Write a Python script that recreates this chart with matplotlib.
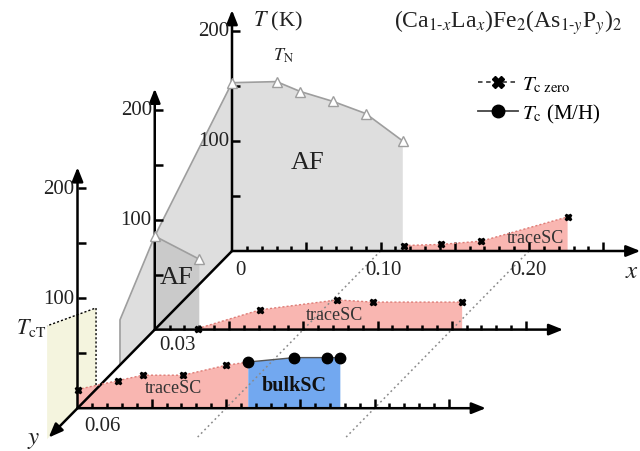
import numpy as np
import matplotlib.pyplot as plt
from matplotlib.transforms import Affine2D
from matplotlib.lines import Line2D
from matplotlib.collections import LineCollection

plt.rcParams['font.family'] = ['Liberation Serif', 'DejaVu Serif']
plt.rcParams['mathtext.fontset'] = 'stix'

# back plane, y = 0
tn_x0 = [0.0, 0.030, 0.046, 0.068, 0.090, 0.115]
tn_T0 = [153, 154, 145, 136, 125, 100]
tr_x0 = [0.116, 0.141, 0.168, 0.226]
tr_T0 = [5, 6, 9, 31]

# middle plane, y = 0.03
tn_x1 = [0.0, 0.030]
tn_T1 = [85, 64]
tr_x1 = [0.029, 0.071, 0.123, 0.147, 0.207]
tr_T1 = [1, 18, 27, 25, 25]

# front plane, y = 0.06
tr_x2 = [0.0, 0.027, 0.044, 0.071, 0.100]
tr_T2 = [17, 25, 30, 30, 39]
bulk_x2 = [0.115, 0.146, 0.168, 0.177]
bulk_T2 = [42, 46, 46, 46]

# x = 0 plane: AF boundary against y, and the TcT region
af_y = [0.0, 0.03, 0.0435, 0.0435]
af_T = [153, 85, 41, 0]
tct_y = [0.0528, 0.0718]
tct_T = [74, 103]

planes_y = [0.0, 0.03, 0.06]
guide_x = [0.10, 0.20]
x_ticks = np.arange(1, 26) * 0.01
T_ticks = [50, 100, 150, 200]
T_labels = [100, 200]

fig = plt.figure(figsize=(6.4, 4.52), dpi=100)
ax = fig.add_axes([0, 0, 1, 1])
ax.set_xlim(0, 640)
ax.set_ylim(452, 0)
ax.axis('off')

# oblique projection: origin, px per unit x, px per K, px per unit y
O = (232.0, 252.0)
SX, ST = 1485.0, 1.1
SYX, SYY = -2575.0, 2620.0


def plane_xT(y0):
    m = np.array([[SX, 0, O[0] + SYX * y0], [0, -ST, O[1] + SYY * y0], [0, 0, 1]])
    return Affine2D(m) + ax.transData


plane_yT = Affine2D(np.array([[SYX, 0, O[0]], [SYY, -ST, O[1]], [0, 0, 1]])) + ax.transData

gray_l, gray_d, gline = '#dedede', '#cacaca', '#9e9e9e'
pink, pline, blue, yellow = '#f9b6b1', '#de7d77', '#72a8f0', '#f4f4de'

# x = 0 plane surfaces
ax.fill(af_y + [0.0], af_T + [0], color=gray_l, lw=0, transform=plane_yT, zorder=1)
ax.plot(af_y, af_T, color=gline, lw=1.2, transform=plane_yT, zorder=2)
ax.fill([tct_y[0]] + tct_y + [tct_y[1]], [0] + tct_T + [0], color=yellow, lw=0,
        transform=plane_yT, zorder=1)
ax.plot([tct_y[0]] + tct_y, [0] + tct_T, color='k', lw=1, ls=(0, (1.5, 1.5)),
        transform=plane_yT, zorder=2)

t0, t1, t2 = (plane_xT(y) for y in planes_y)

# back plane
ax.fill(tn_x0 + [tn_x0[-1], 0], tn_T0 + [0, 0], color=gray_l, lw=0, transform=t0, zorder=1)
ax.fill(tr_x0 + [tr_x0[-1], tr_x0[0]], tr_T0 + [0, 0], color=pink, lw=0, transform=t0, zorder=2)
ax.plot(tn_x0, tn_T0, color=gline, lw=1.2, marker='^', ms=7, mfc='white', mec=gline,
        transform=t0, zorder=5)
ax.plot(tr_x0, tr_T0, color=pline, lw=1, ls=(0, (1.5, 1.5)), transform=t0, zorder=5)
ax.plot(tr_x0, tr_T0, ls='none', marker='X', ms=5, color='k', transform=t0, zorder=6)

# middle plane
ax.fill(tn_x1 + [tn_x1[-1], 0], tn_T1 + [0, 0], color=gray_d, lw=0, transform=t1, zorder=2)
ax.plot(tn_x1, tn_T1, color=gline, lw=1.2, marker='^', ms=7, mfc='white', mec=gline,
        transform=t1, zorder=5)
ax.fill(tr_x1 + [tr_x1[-1], tr_x1[0]], tr_T1 + [0, 0], color=pink, lw=0, transform=t1, zorder=2)
ax.plot(tr_x1, tr_T1, color=pline, lw=1, ls=(0, (1.5, 1.5)), transform=t1, zorder=5)
ax.plot(tr_x1, tr_T1, ls='none', marker='X', ms=5, color='k', transform=t1, zorder=6)

# front plane
fx = tr_x2 + [bulk_x2[0]]
fT = tr_T2 + [bulk_T2[0]]
ax.fill(fx + [fx[-1], fx[0]], fT + [0, 0], color=pink, lw=0, transform=t2, zorder=2)
ax.fill(bulk_x2 + [bulk_x2[-1], bulk_x2[0]], bulk_T2 + [0, 0], color=blue, lw=0,
        transform=t2, zorder=2)
ax.plot(fx, fT, color=pline, lw=1, ls=(0, (1.5, 1.5)), transform=t2, zorder=5)
ax.plot(tr_x2, tr_T2, ls='none', marker='X', ms=5, color='k', transform=t2, zorder=6)
ax.plot(bulk_x2, bulk_T2, color='#555555', lw=1, marker='o', ms=7.5, mfc='k', mec='k',
        transform=t2, zorder=6)

# dotted guides parallel to y (x fixed, T = 0)
for gx in guide_x:
    ax.plot([gx * SX + O[0], gx * SX + O[0] + SYX * 0.071], [O[1], O[1] + SYY * 0.071],
            color='#8a8a8a', lw=1.1, ls=(0, (1.2, 2.0)), zorder=3)

arrow = dict(arrowstyle='-|>,head_length=0.7,head_width=0.28', color='k', lw=1.8,
             shrinkA=0, shrinkB=0, mutation_scale=12)

# axes for every plane
for tr in (t0, t1, t2):
    ax.annotate('', xy=(0.275, 0), xytext=(0, 0), xycoords=tr, textcoords=tr,
                arrowprops=arrow, zorder=4)
    ax.annotate('', xy=(0, 219), xytext=(0, 0), xycoords=tr, textcoords=tr,
                arrowprops=arrow, zorder=4)
    segs = [[(xt, 0), (xt, (9 if round(xt * 100) % 5 == 0 else 5) / ST)] for xt in x_ticks]
    segs += [[(0, tv), (8 / SX, tv)] for tv in T_ticks]
    ax.add_collection(LineCollection(segs, colors='k', linewidths=1.8, transform=tr, zorder=4))
    for tv in T_labels:
        ax.text(-3 / SX, tv, str(tv), transform=tr, ha='right', va='center', fontsize=15,
                color='#222222', zorder=7)

# y axis
ax.annotate('', xy=(0.0712, 0), xytext=(0, 0), xycoords=plane_yT, textcoords=plane_yT,
            arrowprops=arrow, zorder=4)

# labels
tc = '#222222'
ax.text(240, 271, '0', ha='center', va='center', fontsize=15, color=tc)
ax.text(383, 271, '0.10', ha='center', va='center', fontsize=15, color=tc)
ax.text(528, 271, '0.20', ha='center', va='center', fontsize=15, color=tc)
ax.text(632, 272, r'$x$', ha='center', va='center', fontsize=18, color=tc)
ax.text(178, 346, '0.03', ha='center', va='center', fontsize=15, color=tc)
ax.text(102, 427, '0.06', ha='center', va='center', fontsize=15, color=tc)
ax.text(34, 440, r'$y$', ha='center', va='center', fontsize=18, color=tc)
ax.text(253, 21, r'$T$ (K)', ha='left', va='center', fontsize=16, color=tc)
ax.text(283, 56, r'$T_{\mathrm{N}}$', ha='center', va='center', fontsize=13, color=tc)
ax.text(31, 328, r'$T_{\mathrm{cT}}$', ha='center', va='center', fontsize=16, color=tc)
ax.text(308, 163, 'AF', ha='center', va='center', fontsize=19, color=tc)
ax.text(177, 278, 'AF', ha='center', va='center', fontsize=19, color=tc)
ax.text(535, 239, 'traceSC', ha='center', va='center', fontsize=13, color='#333333')
ax.text(334, 316, 'traceSC', ha='center', va='center', fontsize=13, color='#333333')
ax.text(173, 389, 'traceSC', ha='center', va='center', fontsize=13, color='#333333')
ax.text(294, 386, 'bulkSC', ha='center', va='center', fontsize=14.5, fontweight='bold',
        color='#111111')
ax.text(508, 23, r'(Ca$_{1\text{-}x}$La$_{x}$)Fe$_2$(As$_{1\text{-}y}$P$_{y}$)$_2$',
        ha='center', va='center', fontsize=17, color=tc)

handles = [
    Line2D([], [], color='#444444', lw=1.3, ls=(0, (2.5, 2)), marker='X', ms=9, mfc='k', mec='k'),
    Line2D([], [], color='#444444', lw=1.3, ls='-', marker='o', ms=9, mfc='k', mec='k'),
]
ax.legend(handles, [r'$T_{\mathrm{c\ zero}}$', r'$T_{\mathrm{c}}$ (M/H)'], loc='upper left',
          bbox_to_anchor=(478 / 640, 1 - 76 / 452), frameon=False, fontsize=15,
          handlelength=1.9, handletextpad=0.2, labelspacing=0.35, borderpad=0,
          borderaxespad=0)

fig.savefig('out.png', dpi=100)
